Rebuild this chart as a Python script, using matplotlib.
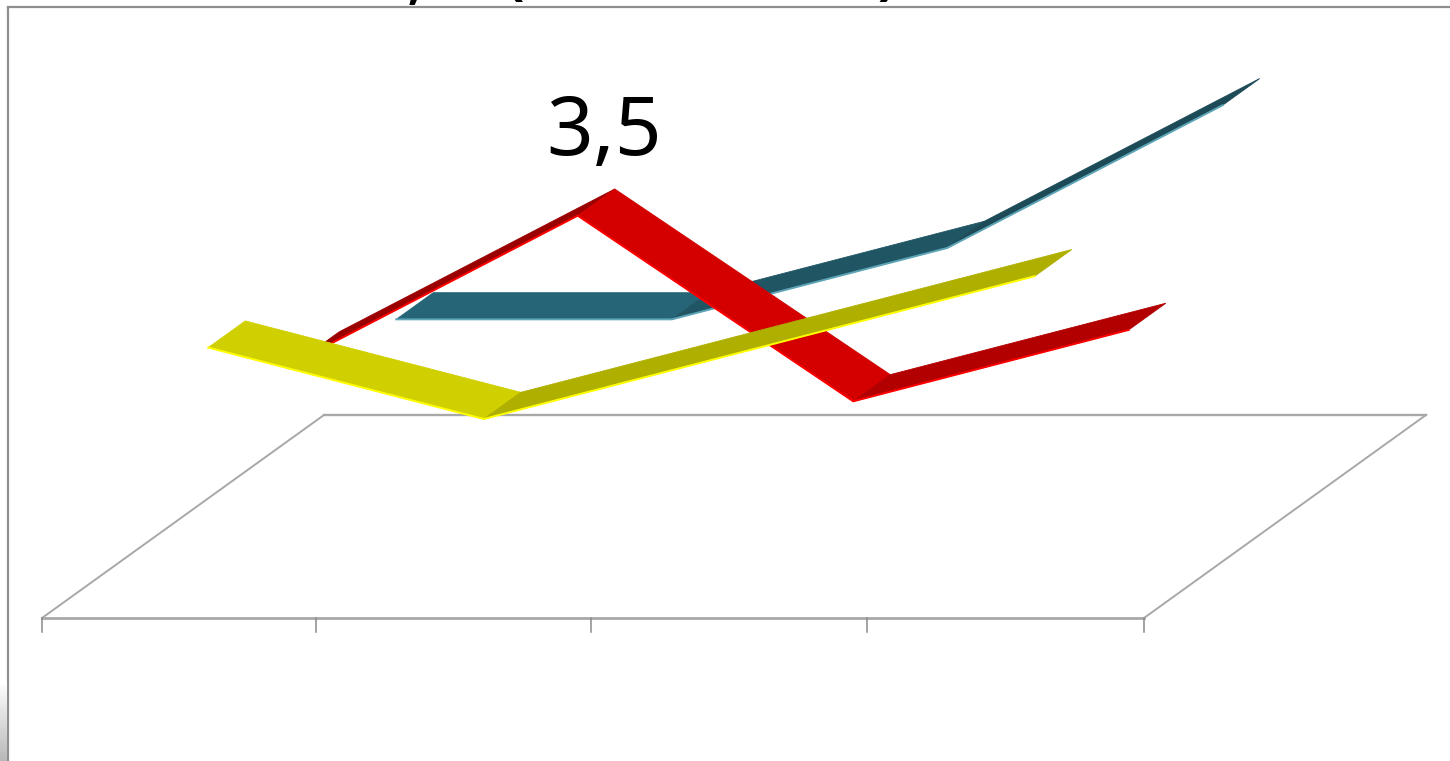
import numpy as np
import matplotlib
matplotlib.use("Agg")
import matplotlib.pyplot as plt
from matplotlib.patches import Polygon

# значения рядов, ряды идут от переднего к заднему
series_names = ["Ряд 1", "Ряд 2", "Ряд 3"]
values_front = [3.5, 2.5, 3.5, 4.5]
values_middle = [2.4, 4.4, 1.8, 2.8]
values_back = [2, 2, 3, 5]
data_label = "3,5"
title_bits = [",", "(", ")"]

plt.rcParams["font.family"] = ["Noto Sans", "DejaVu Sans"]

W, H = 1450, 761
px_cat = 275.5   # пикселей на категорию
px_val = 71.4    # пикселей на единицу значения
x0, y0 = 42, 618 # передний левый угол пола

fig = plt.figure(figsize=(W / 100, H / 100), dpi=100)
ax = fig.add_axes([8 / W, 0, (W - 8) / W, (H - 7) / H])
ax.set_xlim((8 - x0) / px_cat, (W - x0) / px_cat)
ax.set_ylim((y0 - H) / px_val, (y0 - 7) / px_val)
ax.set_xticks([])
ax.set_yticks([])
for side in ["right", "bottom"]:
    ax.spines[side].set_visible(False)
for side in ["top", "left"]:
    ax.spines[side].set_color("#8f8f8f")
    ax.spines[side].set_linewidth(1.6)

# сдвиг на один ряд в глубину (косая проекция)
dx = 94 / px_cat
dy = 67.67 / px_val
n_cat = len(values_front)
n_ser = len(series_names)
ribbon_a, ribbon_b = 0.303, 0.697

# пол и засечки
floor_color = "#a8a8a8"
ax.plot([0, n_cat], [0, 0], color=floor_color, lw=2.0, zorder=1)
ax.plot([n_ser * dx, n_cat + n_ser * dx], [n_ser * dy, n_ser * dy], color=floor_color, lw=1.7, zorder=1)
ax.plot([0, n_ser * dx], [0, n_ser * dy], color=floor_color, lw=1.4, zorder=1)
ax.plot([n_cat, n_cat + n_ser * dx], [0, n_ser * dy], color=floor_color, lw=1.4, zorder=1)
for c in [0, 0.995, 1.993, 2.995, 4]:
    ax.plot([c, c], [0, -14 / px_val], color="#8a8a8a", lw=1.1, zorder=1)


def shade(rgb, slope):
    # подъём темнее, спуск и ровный участок в полном цвете
    f = 1.0 if slope <= 0 else 0.95 - 0.11 * slope
    return tuple(v * f for v in rgb)


def ribbon(values, depth, face, edge, z):
    xs = np.arange(len(values)) + 0.5
    ys = np.array(values, dtype=float)
    x_f, y_f = xs + (depth + ribbon_a) * dx, ys + (depth + ribbon_a) * dy
    x_b, y_b = xs + (depth + ribbon_b) * dx, ys + (depth + ribbon_b) * dy
    rgb = matplotlib.colors.to_rgb(face)
    for i in range(len(values) - 1):
        pts = [(x_f[i], y_f[i]), (x_f[i + 1], y_f[i + 1]), (x_b[i + 1], y_b[i + 1]), (x_b[i], y_b[i])]
        col = shade(rgb, ys[i + 1] - ys[i])
        # тонкая обводка своим цветом, чтобы не просвечивали швы
        ax.add_patch(Polygon(pts, closed=True, fc=col, ec=col, lw=0.6, zorder=z))
    ax.plot(x_f, y_f, color=edge, lw=1.4, zorder=z + 0.1, solid_joinstyle="miter")


ribbon(values_back, 2, "#266577", "#5fa5b8", 3)
ribbon(values_middle, 1, "#d40000", "#ff0000", 4)
ribbon(values_front, 0, "#d0d000", "#ffff00", 5)

ax.text(2.04, 6.48, data_label, fontsize=59, ha="center", va="baseline", color="black", zorder=6)

# обрезанный заголовок сверху
fig.text(417 / W, 1 + 6 / H, title_bits[0], fontsize=59, ha="center", va="baseline", color="black")
fig.text(513 / W, 1 + 11 / H, title_bits[1], fontsize=59, ha="center", va="baseline", color="black")
fig.text(889 / W, 1 + 11 / H, title_bits[2], fontsize=59, ha="center", va="baseline", color="black")

# серая тень в левом нижнем углу
shadow = fig.add_axes([0, 0, 7 / W, 80 / H])
shadow.imshow(np.linspace(1.0, 0.72, 80).reshape(-1, 1), cmap="gray", vmin=0, vmax=1, aspect="auto")
shadow.axis("off")

fig.savefig("out.png", dpi=100)
